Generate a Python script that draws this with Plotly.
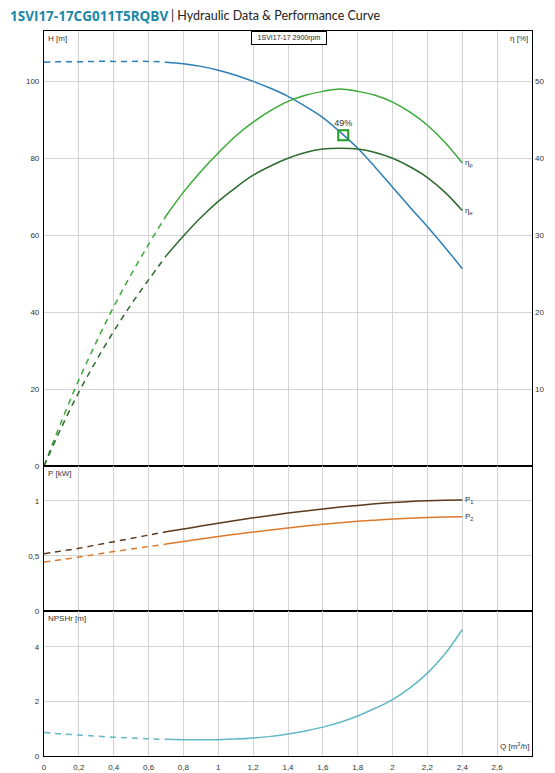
import plotly.graph_objects as go

# ---------------- data ----------------
Q_dash = [0, 0.1, 0.2, 0.3, 0.4, 0.5, 0.6, 0.7]
Q_solid = [0.7, 0.8, 0.9, 1.0, 1.1, 1.2, 1.3, 1.4, 1.5, 1.6, 1.7, 1.8, 1.9, 2.0, 2.1, 2.2, 2.3, 2.4]

H_dash = [105.0, 105.1, 105.1, 105.2, 105.2, 105.2, 105.2, 105.0]
H_solid = [105.0, 104.6, 103.9, 102.9, 101.6, 100.0, 98.2, 96.1, 93.5, 90.6, 86.8, 82.6, 77.7,
           72.5, 67.3, 62.2, 56.9, 51.3]

ETA_P_dash = [0, 5.8, 11.2, 16.1, 20.7, 24.9, 28.8, 32.5]
ETA_P_solid = [32.5, 35.6, 38.3, 40.7, 42.9, 44.7, 46.2, 47.4, 48.2, 48.7, 49.0, 48.7, 48.2,
               47.3, 46.0, 44.3, 42.1, 39.4]

ETA_E_dash = [0, 5.0, 9.6, 13.7, 17.5, 21.0, 24.2, 27.3]
ETA_E_solid = [27.3, 29.9, 32.3, 34.4, 36.2, 37.8, 39.0, 40.0, 40.75, 41.2, 41.3, 41.2, 40.75,
               40.0, 38.9, 37.5, 35.6, 33.2]

P1_dash = [0.52, 0.545, 0.57, 0.60, 0.63, 0.66, 0.69, 0.72]
P1_solid = [0.72, 0.745, 0.772, 0.798, 0.823, 0.847, 0.869, 0.89, 0.91, 0.928, 0.945, 0.96,
            0.974, 0.986, 0.996, 1.003, 1.007, 1.008]

P2_dash = [0.445, 0.467, 0.49, 0.515, 0.54, 0.563, 0.586, 0.608]
P2_solid = [0.608, 0.632, 0.655, 0.677, 0.698, 0.718, 0.737, 0.755, 0.772, 0.788, 0.802, 0.815,
            0.826, 0.836, 0.844, 0.85, 0.854, 0.856]

NPSH_dash = [0.86, 0.81, 0.77, 0.73, 0.69, 0.66, 0.63, 0.61]
NPSH_solid = [0.61, 0.60, 0.595, 0.60, 0.62, 0.66, 0.72, 0.81, 0.92, 1.06, 1.24, 1.47, 1.75,
              2.07, 2.50, 3.04, 3.74, 4.64]

BEP_Q = [1.717]
BEP_H = [86.0]
BEP_LABEL = "49%"

X_TICKS = [0, 0.2, 0.4, 0.6, 0.8, 1.0, 1.2, 1.4, 1.6, 1.8, 2.0, 2.2, 2.4, 2.6]
X_TICKTEXT = ["0", "0,2", "0,4", "0,6", "0,8", "1", "1,2", "1,4", "1,6", "1,8", "2", "2,2", "2,4", "2,6"]
H_TICKS = [0, 20, 40, 60, 80, 100]
ETA_TICKS = [10, 20, 30, 40, 50]
P_TICKS = [0, 0.5, 1]
P_TICKTEXT = ["0", "0,5", "1"]
NPSH_TICKS = [0, 2, 4]

TITLE_CODE = "1SVI17-17CG011T5RQBV"
TITLE_REST = "| Hydraulic Data & Performance Curve"
LEGEND_TEXT = "1SVI17-17 2900rpm"

# ---------------- style ----------------
C_H = "#2b7fb5"
C_EP = "#3aa936"
C_EE = "#2e6a30"
C_P1 = "#5b3a1c"
C_P2 = "#dc7a2c"
C_N = "#62b8c3"
GRID = "#d4d4d4"
TXT = "#333333"
FONT = "Liberation Sans"
DASH = "6px,5px"
LW = 1.5

# the page body adds an 8px offset, so the figure is sized to fit the window
OFF = 8
W, HGT = 555 - OFF, 773 - OFF
L, R, T, B = 44 - OFF, 23, 31 - OFF, 17
PW = W - L - R
PH = HGT - T - B

fig = go.Figure()


def add_pair(qd, yd, qs, ys, color, xa, ya, name):
    fig.add_trace(go.Scatter(x=qd, y=yd, mode="lines", name=name,
                             line=dict(color=color, width=LW, dash=DASH, shape="spline", smoothing=1),
                             xaxis=xa, yaxis=ya, hoverinfo="skip"))
    fig.add_trace(go.Scatter(x=qs, y=ys, mode="lines", name=name,
                             line=dict(color=color, width=LW, shape="spline", smoothing=1),
                             xaxis=xa, yaxis=ya))


add_pair(Q_dash, ETA_P_dash, Q_solid, ETA_P_solid, C_EP, "x", "y2", "ηp")
add_pair(Q_dash, ETA_E_dash, Q_solid, ETA_E_solid, C_EE, "x", "y2", "ηe")
add_pair(Q_dash, H_dash, Q_solid, H_solid, C_H, "x", "y", "H")
add_pair(Q_dash, P1_dash, Q_solid, P1_solid, C_P1, "x2", "y3", "P1")
add_pair(Q_dash, P2_dash, Q_solid, P2_solid, C_P2, "x2", "y3", "P2")
add_pair(Q_dash, NPSH_dash, Q_solid, NPSH_solid, C_N, "x3", "y4", "NPSHr")

fig.add_trace(go.Scatter(x=BEP_Q, y=BEP_H, mode="markers+text", text=[BEP_LABEL],
                         textposition="top center",
                         textfont=dict(family=FONT, size=9, color=TXT),
                         marker=dict(symbol="square-open", size=10, color="#1f9a23",
                                     line=dict(width=2, color="#1f9a23")),
                         xaxis="x", yaxis="y"))

tickfont = dict(family=FONT, size=8, color=TXT)
xcommon = dict(range=[0, 2.8], tickvals=X_TICKS, ticktext=X_TICKTEXT, showgrid=True,
               gridcolor=GRID, gridwidth=1, showline=True, linecolor="black", linewidth=1.2,
               mirror=True, ticks="", zeroline=False, tickfont=tickfont, domain=[0, 1],
               automargin=False)
ycommon = dict(showgrid=True, gridcolor=GRID, gridwidth=1, showline=True, linecolor="black",
               linewidth=1.2, mirror=True, ticks="", zeroline=False, tickfont=tickfont,
               ticklabelstandoff=2, automargin=False)

fig.update_layout(
    width=W, height=HGT,
    margin=dict(l=L, r=R, t=T, b=B, autoexpand=False),
    paper_bgcolor="white", plot_bgcolor="white",
    showlegend=False,
    font=dict(family=FONT, color=TXT),
    xaxis=dict(**xcommon, anchor="y", showticklabels=False),
    xaxis2=dict(**xcommon, anchor="y3", matches="x", showticklabels=False),
    xaxis3=dict(**xcommon, anchor="y4", matches="x", showticklabels=True, ticklabelstandoff=3),
    yaxis=dict(**ycommon, domain=[0.4, 1.0], anchor="x", range=[0, 113.1], tickvals=H_TICKS),
    yaxis2=dict(overlaying="y", side="right", anchor="x", range=[0, 56.55], tickvals=ETA_TICKS,
                showgrid=False, zeroline=False, showline=False, ticks="", tickfont=tickfont,
                ticklabelstandoff=2, automargin=False),
    yaxis3=dict(**ycommon, domain=[0.2, 0.4], anchor="x2", range=[0, 1.318],
                tickvals=P_TICKS, ticktext=P_TICKTEXT),
    yaxis4=dict(**ycommon, domain=[0.0, 0.2], anchor="x3", range=[0, 5.32], tickvals=NPSH_TICKS),
)


def px_x(page_px):
    return (page_px - OFF - L) / PW


def px_y(page_py):
    return 1 - (page_py - OFF - T) / PH


small = dict(family=FONT, size=8, color=TXT)
ann = [
    dict(text=f"<b>{TITLE_CODE}</b>", xref="paper", yref="paper", x=px_x(OFF), y=px_y(16),
         xanchor="left", yanchor="middle", showarrow=False,
         font=dict(family="Open Sans", size=13.5, color="#1b88a6")),
    dict(text=TITLE_REST, xref="paper", yref="paper", x=px_x(169), y=px_y(16),
         xanchor="left", yanchor="middle", showarrow=False,
         font=dict(family="Lato", size=12.5, color="#222222")),
    dict(text="H [m]", xref="paper", yref="paper", x=0.005, y=0.998, xanchor="left", yanchor="top",
         showarrow=False, font=small),
    dict(text="η [%]", xref="paper", yref="paper", x=0.996, y=0.998, xanchor="right", yanchor="top",
         showarrow=False, font=small),
    dict(text="P [kW]", xref="paper", yref="paper", x=0.005, y=0.398, xanchor="left", yanchor="top",
         showarrow=False, font=small),
    dict(text="NPSHr [m]", xref="paper", yref="paper", x=0.005, y=0.198, xanchor="left", yanchor="top",
         showarrow=False, font=small),
    dict(text="Q [m<sup>3</sup>/h]", xref="paper", yref="paper", x=0.997, y=0.004, xanchor="right",
         yanchor="bottom", showarrow=False, font=small),
    dict(text=LEGEND_TEXT, xref="paper", yref="paper", x=px_x(289), y=1.0, xanchor="center",
         yanchor="top", showarrow=False, font=dict(family=FONT, size=7, color="#222"),
         bgcolor="white", bordercolor="black", borderwidth=1, borderpad=2, width=70),
    dict(text="η<sub>p</sub>", xref="x", yref="y2", x=Q_solid[-1], y=ETA_P_solid[-1], xanchor="left",
         yanchor="middle", xshift=1, showarrow=False, font=dict(family=FONT, size=8, color=TXT)),
    dict(text="η<sub>e</sub>", xref="x", yref="y2", x=Q_solid[-1], y=ETA_E_solid[-1], xanchor="left",
         yanchor="middle", xshift=1, showarrow=False, font=dict(family=FONT, size=8, color=TXT)),
    dict(text="P<sub>1</sub>", xref="x2", yref="y3", x=Q_solid[-1], y=P1_solid[-1], xanchor="left",
         yanchor="middle", xshift=1, showarrow=False, font=dict(family=FONT, size=8, color=TXT)),
    dict(text="P<sub>2</sub>", xref="x2", yref="y3", x=Q_solid[-1], y=P2_solid[-1], xanchor="left",
         yanchor="middle", xshift=1, showarrow=False, font=dict(family=FONT, size=8, color=TXT)),
]
fig.update_layout(annotations=ann)

fig.write_html("out.html")
